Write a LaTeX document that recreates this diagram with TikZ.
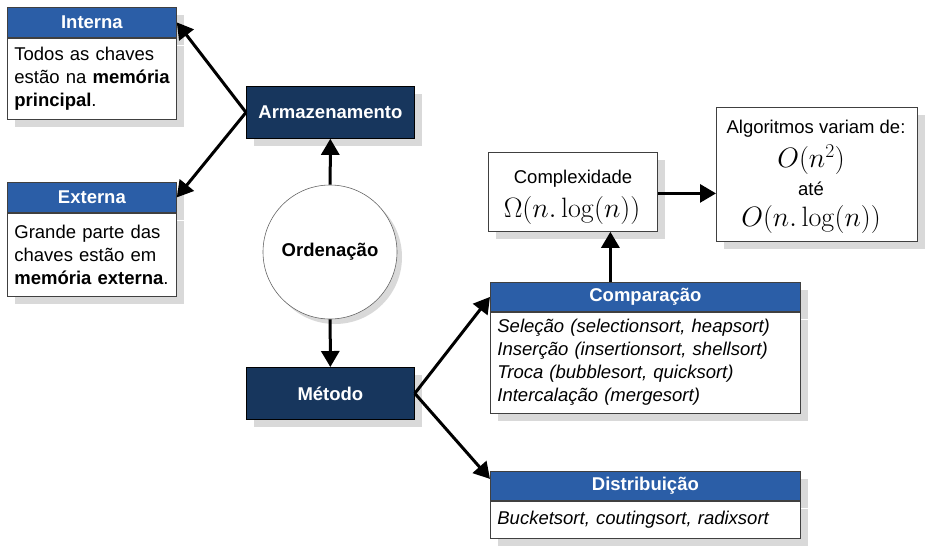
\documentclass[tikz,border=0pt]{standalone}
\usepackage{fix-cm}
\usepackage[no-math]{fontspec}
\setmainfont{Liberation Sans}
\usetikzlibrary{shadows,arrows.meta}
\definecolor{hblue}{HTML}{2B5EA7}
\definecolor{navy}{HTML}{17365D}
\definecolor{shg}{HTML}{D9D9D9}
\tikzset{
  txt/.style={font=\fontsize{18.5}{23}\selectfont},
  base/.style={inner sep=0pt, anchor=north west, txt},
  shd/.style={drop shadow={shadow xshift=8pt, shadow yshift=-8pt, fill=shg, opacity=1}},
  hdr/.style={base, shd, draw=black!75, line width=0.8pt, fill=hblue, text=white,
    font=\fontsize{18.5}{23}\selectfont\bfseries, minimum height=30pt},
  bod/.style={base, shd, draw=black!75, line width=0.8pt, fill=white, align=left,
    inner xsep=7pt},
  dark/.style={base, shd, draw=black, line width=0.8pt, fill=navy, text=white,
    font=\fontsize{18.5}{23}\selectfont\bfseries, minimum width=168pt, minimum height=52pt},
  circ/.style={circle, draw=black!60, line width=0.6pt, fill=white, minimum size=134pt,
    inner sep=0pt, font=\fontsize{18.5}{23}\selectfont\bfseries,
    drop shadow={shadow xshift=5pt, shadow yshift=-5pt, fill=shg, opacity=1}},
  wbox/.style={base, shd, draw=black!75, line width=0.8pt, fill=white},
  mth/.style={font=\fontsize{28}{32}\selectfont, inner sep=0pt},
  plain/.style={txt, inner sep=0pt},
  arr/.style={-{Triangle[width=18pt,length=16pt]}, line width=3pt},
}
\begin{document}
\begin{tikzpicture}[x=1pt,y=-1pt]
\useasboundingbox (0,0) rectangle (931,550);
% Interna
\node[hdr, minimum width=169pt] (intH) at (7,7) {Interna};
\node[bod, text width=155pt, minimum height=81pt] (intB) at (intH.south west)
  {Todos~as~chaves\\ estão~na~\textbf{memória}\\ \textbf{principal}.};
% Externa
\node[hdr, minimum width=169pt] (extH) at (7,182) {Externa};
\node[bod, text width=155pt, minimum height=83pt] (extB) at (extH.south west)
  {Grande~parte~das\\ chaves~estão~em\\ \textbf{memória~externa}.};
% center column
\node[dark] (arm) at (246,86) {Armazenamento};
\node[dark] (met) at (246,367) {Método};
\node[circ] (ord) at (330,252) {Ordenação};
% Complexidade
\node[wbox, minimum width=169pt, minimum height=79pt] (cpx) at (488,152) {};
\node[plain] (cpxT) at (573,179) {Complexidade};
\node[mth] (cpxM) at (572,210) {$\Omega(n.\log(n))$};
% Algoritmos
\node[wbox, minimum width=201pt, minimum height=134pt] (alg) at (716,107) {};
\node[plain] (alg1) at (816,129) {Algoritmos variam de:};
\node[mth] (alg2) at (811,160) {$O(n^2)$};
\node[plain] (alg3) at (811,189) {até};
\node[mth] (alg4) at (811,219) {$O(n.\log(n))$};
% Comparacao
\node[hdr, minimum width=310pt, minimum height=29pt] (cmpH) at (490,282) {Comparação};
\node[bod, text width=296pt, minimum height=101pt] (cmpB) at (cmpH.south west)
  {\itshape Seleção (selectionsort, heapsort)\\ Inserção (insertionsort, shellsort)\\
   Troca (bubblesort, quicksort)\\ Intercalação (mergesort)};
% Distribuicao
\node[hdr, minimum width=310pt, minimum height=29pt] (disH) at (490,471) {Distribuição};
\node[bod, text width=296pt, minimum height=37pt] (disB) at (disH.south west)
  {\itshape Bucketsort, coutingsort, radixsort};
% arrows
\draw[arr] (ord) -- (arm);
\draw[arr] (ord) -- (met);
\draw[arr] (arm.west) -- (intH.east);
\draw[arr] (arm.west) -- (extH.east);
\draw[arr] (met.east) -- (cmpH.west);
\draw[arr] (met.east) -- ([yshift=7pt]disH.west);
\draw[arr] ([yshift=-1.5pt]cpx.east) -- ([yshift=-1.5pt]cpx.east -| alg.west);
\draw[arr] ([xshift=-35pt]cmpH.north) -- ([xshift=-35pt]cmpH.north |- cpx.south);
\end{tikzpicture}
\end{document}
